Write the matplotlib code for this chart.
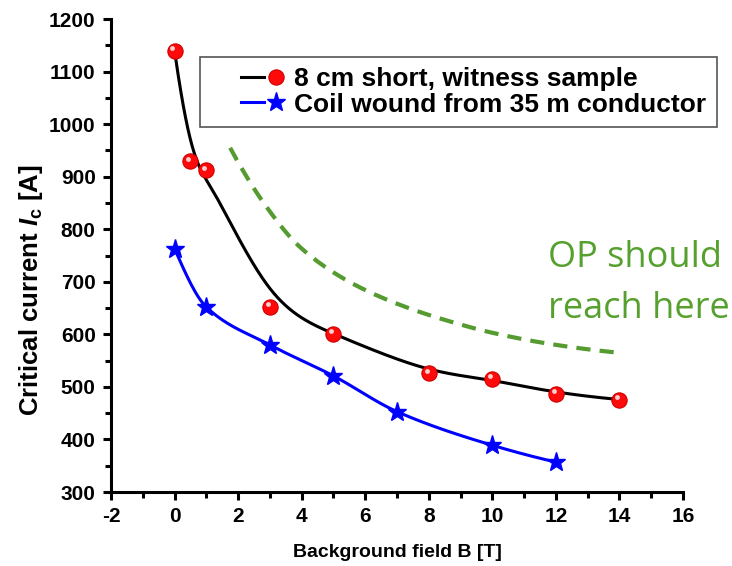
import numpy as np
import matplotlib
matplotlib.use("Agg")
from matplotlib import pyplot as plt
from matplotlib import transforms
from matplotlib.ticker import MultipleLocator
from matplotlib.legend_handler import HandlerTuple

plt.rcParams['font.family'] = ['Liberation Sans', 'DejaVu Sans']
plt.rcParams['font.weight'] = 'bold'
plt.rcParams['axes.unicode_minus'] = False
plt.rcParams['mathtext.fontset'] = 'custom'
plt.rcParams['mathtext.rm'] = 'Liberation Sans:bold'
plt.rcParams['mathtext.it'] = 'Liberation Sans:bold:italic'

# short sample (witness)
B_short = [0, 0.5, 1, 3, 5, 8, 10, 12, 14]
Ic_short = [1140, 929, 912, 653, 601, 526, 516, 487, 476]

# coil from 35 m conductor
B_coil = [0, 1, 3, 5, 7, 10, 12]
Ic_coil = [763, 652, 580, 521, 453, 389, 357]

# target operating line
B_op = [1.75, 2.9, 3.95, 5.5, 7.1, 8.7, 10, 12, 14]
Ic_op = [955, 842, 766, 700, 656, 624, 603, 580, 565]

label_short = '8 cm short, witness sample'
label_coil = 'Coil wound from 35 m conductor'
note = ['OP should', 'reach here']


def bspline(xs, ys, n=300):
    # clamped cubic B-spline, data points used as control points
    P = np.column_stack([xs, ys]).astype(float)
    m = len(P)
    k = 3
    knots = np.concatenate([np.zeros(k), np.linspace(0, 1, m - k + 1), np.ones(k)])
    t = np.linspace(0, 1 - 1e-9, n)

    def N(i, p, u):
        if p == 0:
            return ((knots[i] <= u) & (u < knots[i + 1])).astype(float)
        a = 0.0
        d1 = knots[i + p] - knots[i]
        if d1 > 0:
            a = (u - knots[i]) / d1 * N(i, p - 1, u)
        b = 0.0
        d2 = knots[i + p + 1] - knots[i + 1]
        if d2 > 0:
            b = (knots[i + p + 1] - u) / d2 * N(i + 1, p - 1, u)
        return a + b

    out = np.zeros((n, 2))
    for i in range(m):
        out += N(i, k, t)[:, None] * P[i]
    out[-1] = P[-1]
    return out[:, 0], out[:, 1]


def pchip(xs, ys, n=300):
    # shape preserving cubic through every point (Fritsch-Carlson)
    x = np.asarray(xs, float)
    y = np.asarray(ys, float)
    h = np.diff(x)
    s = np.diff(y) / h
    m = np.zeros_like(y)
    for i in range(1, len(x) - 1):
        if s[i - 1] * s[i] > 0:
            w1 = 2 * h[i] + h[i - 1]
            w2 = h[i] + 2 * h[i - 1]
            m[i] = (w1 + w2) / (w1 / s[i - 1] + w2 / s[i])
    m[0] = ((2 * h[0] + h[1]) * s[0] - h[0] * s[1]) / (h[0] + h[1])
    m[-1] = ((2 * h[-1] + h[-2]) * s[-1] - h[-1] * s[-2]) / (h[-1] + h[-2])
    xx = np.linspace(x[0], x[-1], n)
    j = np.clip(np.searchsorted(x, xx) - 1, 0, len(x) - 2)
    t = (xx - x[j]) / h[j]
    h00 = 2 * t ** 3 - 3 * t ** 2 + 1
    h10 = t ** 3 - 2 * t ** 2 + t
    h01 = -2 * t ** 3 + 3 * t ** 2
    h11 = t ** 3 - t ** 2
    yy = h00 * y[j] + h10 * h[j] * m[j] + h01 * y[j + 1] + h11 * h[j] * m[j + 1]
    return xx, yy


class ShiftedTuple(HandlerTuple):
    # leaves an empty strip left of the legend sample
    def __init__(self, shift, **kw):
        super().__init__(**kw)
        self.shift = shift

    def create_artists(self, legend, orig_handle, xdescent, ydescent,
                       width, height, fontsize, trans):
        return super().create_artists(legend, orig_handle, xdescent - self.shift,
                                      ydescent, width - self.shift, height,
                                      fontsize, trans)


fig = plt.figure(figsize=(7.32, 5.66), dpi=100)
ax = fig.add_axes([0.1516, 0.1307, 0.7814, 0.8357])

# curves
bx, by = bspline(B_short, Ic_short)
ax.plot(bx, by, color='black', lw=2.2, zorder=2)
cx, cy = pchip(B_coil, Ic_coil)
ax.plot(cx, cy, color='#0000ff', lw=2.2, zorder=2)
ox, oy = pchip(B_op, Ic_op)
ax.plot(ox, oy, color='#559b2f', lw=3, ls=(0, (3.4, 2.2)), zorder=2)

# shiny red balls
balls, = ax.plot(B_short, Ic_short, 'o', ms=11, color='#ff0a0a', mec='#d00000', mew=0.8, zorder=4)
hl = transforms.offset_copy(ax.transData, fig=fig, x=-1.6, y=1.8, units='points')
ax.plot(B_short, Ic_short, 'o', ms=3.5, color='#ffd0d0', mec='none', transform=hl, zorder=5)
stars, = ax.plot(B_coil, Ic_coil, '*', ms=14, color='#0000ff', mec='#0000ff', zorder=4)

# legend handles: line + marker
h_short = (ax.plot([], [], color='black', lw=2.2)[0], balls)
h_coil = (ax.plot([], [], color='#0000ff', lw=2.2)[0], stars)
leg = ax.legend([h_short, h_coil], [label_short, label_coil],
                handler_map={tuple: ShiftedTuple(22, ndivide=None, pad=0)},
                loc='upper left', bbox_to_anchor=(0.156, 0.92), borderaxespad=0,
                prop={'size': 19, 'weight': 'bold'}, handlelength=2.9,
                handletextpad=0.25, borderpad=0.4, labelspacing=0.05,
                fancybox=False, framealpha=1, edgecolor='#555555')
leg.get_frame().set_linewidth(1.2)

ax.text(11.74, 728, note[0], color='#56a02e', fontsize=26,
        family=['Open Sans', 'DejaVu Sans'], fontweight='normal', va='baseline', ha='left')
ax.text(11.74, 631, note[1], color='#56a02e', fontsize=26,
        family=['Open Sans', 'DejaVu Sans'], fontweight='normal', va='baseline', ha='left')

ax.set_xlim(-2, 16)
ax.set_ylim(300, 1200)
ax.xaxis.set_major_locator(MultipleLocator(2))
ax.xaxis.set_minor_locator(MultipleLocator(1))
ax.yaxis.set_major_locator(MultipleLocator(100))
ax.yaxis.set_minor_locator(MultipleLocator(50))

for s in ['top', 'right']:
    ax.spines[s].set_visible(False)
for s in ['left', 'bottom']:
    ax.spines[s].set_linewidth(2.2)
ax.tick_params(which='major', direction='out', length=6, width=2.2, labelsize=15, pad=5)
ax.tick_params(which='minor', direction='out', length=4, width=2.2)

ax.set_xlabel('Background field B [T]', fontsize=14, fontweight='bold')
ax.xaxis.set_label_coords(0.5, -0.11)
ax.set_ylabel(r'Critical current $I_\mathrm{c}$ [A]', fontsize=18.5, fontweight='bold')
ax.yaxis.set_label_coords(-0.115, 0.427)

fig.savefig('out.png', dpi=100)
